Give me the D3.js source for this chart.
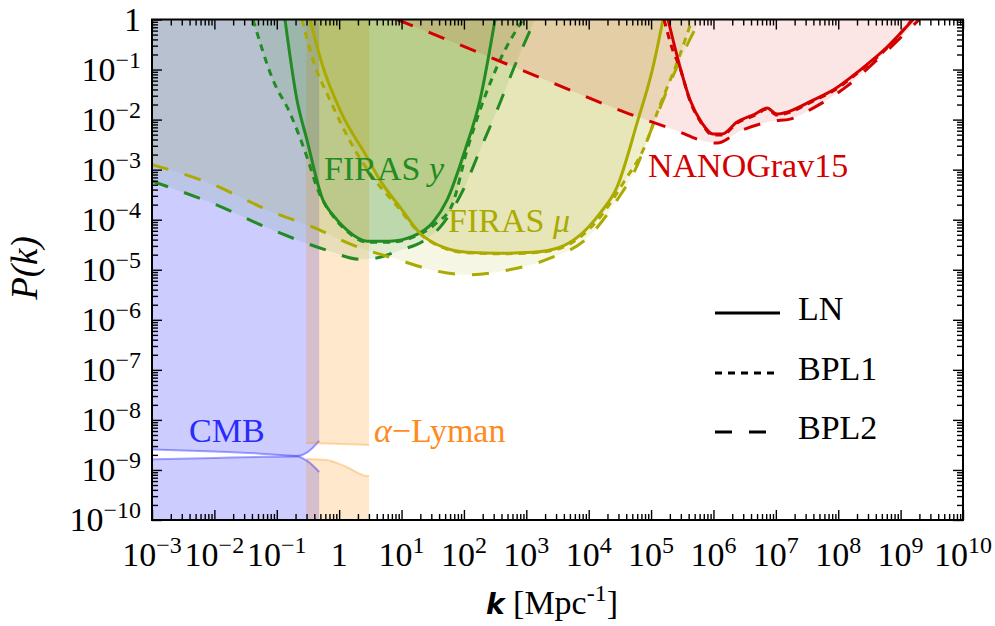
<!DOCTYPE html>
<html><head><meta charset="utf-8">
<script src="https://cdn.jsdelivr.net/npm/d3@7"></script>
<style>
body{margin:0;background:#fff}
svg{display:block}
text{font-family:"Liberation Serif","DejaVu Serif",serif}
</style>
</head><body>
<svg id="c" width="995" height="626"></svg>
<script>
// ---------- DATA: points are [log10 k (Mpc^-1), log10 P(k)] ----------
const firasY_LN = [[-0.868,0],[-0.676,-1.61],[-0.515,-2.41],[-0.259,-3.61],[-0.098,-3.91],[0.126,-4.21],[0.447,-4.43],[0.815,-4.43],[1.184,-4.33],[1.505,-4.05],[1.729,-3.61],[2.018,-2.61],[2.258,-1.61],[2.499,0]];
const firasY_BPL1 = [[-1.381,0],[-1.060,-1.21],[-0.788,-1.87],[-0.515,-2.75],[-0.339,-3.41],[-0.098,-3.93],[0.126,-4.23],[0.447,-4.45],[0.815,-4.45],[1.184,-4.35],[1.537,-4.09],[1.809,-3.71],[2.050,-2.61],[2.258,-1.81],[2.579,-0.81],[2.948,0]];
const firasY_BPL2 = [[-3,-3.23],[-1.958,-3.71],[-1.060,-4.21],[-0.195,-4.61],[0.334,-4.79],[0.575,-4.77],[0.976,-4.61],[1.344,-4.43],[1.617,-4.15],[1.970,-3.45],[2.258,-2.61],[2.531,-1.81],[2.820,-0.91],[3.140,0]];

const firasMu_LN = [[-0.467,0],[-0.259,-0.95],[0.014,-1.81],[0.447,-2.75],[0.655,-3.21],[0.976,-3.75],[1.296,-4.27],[1.665,-4.55],[2.050,-4.65],[2.579,-4.67],[3.108,-4.65],[3.541,-4.55],[3.861,-4.31],[4.182,-3.87],[4.454,-3.35],[4.775,-2.07],[5.031,-0.95],[5.192,0]];
const firasMu_BPL1 = [[-0.595,0],[-0.419,-0.81],[-0.147,-1.61],[0.254,-2.61],[0.575,-3.21],[0.944,-3.75],[1.296,-4.28],[1.665,-4.56],[2.050,-4.66],[2.579,-4.68],[3.108,-4.66],[3.541,-4.57],[3.861,-4.35],[4.182,-3.95],[4.583,-3.21],[4.872,-2.61],[5.144,-1.71],[5.432,-0.81],[5.657,0]];
const firasMu_BPL2 = [[-3,-2.90],[-2.118,-3.25],[-1.060,-3.85],[-0.419,-4.15],[0.222,-4.51],[0.976,-4.81],[1.505,-5.01],[2.050,-5.10],[2.691,-5.01],[3.380,-4.77],[3.973,-4.37],[4.454,-3.61],[4.743,-3.01],[5.063,-2.01],[5.464,-0.81],[5.785,0]];

const nano_LN = [[5.272,0],[5.464,-0.95],[5.625,-1.61],[5.817,-2.07],[5.994,-2.29],[6.138,-2.29],[6.378,-2.05],[6.667,-1.89],[6.859,-1.77],[7.019,-1.89],[7.180,-1.85],[7.597,-1.61],[7.917,-1.41],[8.350,-1.01],[8.783,-0.55],[9.200,0]];
const nano_BPL1 = [[5.208,0],[5.336,-0.57],[5.464,-0.97],[5.625,-1.63],[5.817,-2.09],[5.994,-2.31],[6.138,-2.31],[6.378,-2.07],[6.667,-1.91],[6.859,-1.79],[7.019,-1.91],[7.180,-1.87],[7.597,-1.63],[7.917,-1.43],[8.350,-1.03],[8.783,-0.57],[9.184,0]];
const nano_BPL2 = [[0.928,0],[2.258,-0.67],[3.428,-1.27],[4.615,-1.87],[5.464,-2.25],[5.785,-2.41],[6.057,-2.47],[6.426,-2.23],[6.955,-2.03],[7.228,-1.99],[7.597,-1.77],[8.142,-1.33],[8.671,-0.75],[9.300,0]];

const cmbUpper = [[-3,-8.59],[-2,-8.63],[-1.3,-8.67],[-0.676,-8.72],[-0.5,-8.64],[-0.32,-8.42]];
const cmbLower = [[-3,-8.79],[-2,-8.76],[-1.3,-8.74],[-0.676,-8.73],[-0.5,-8.83],[-0.32,-9.04]];
const lyaUpper = [[-0.53,-8.46],[0.0,-8.48],[0.48,-8.50]];
const lyaLower = [[-0.53,-8.78],[-0.2,-8.80],[0.12,-8.94],[0.45,-9.12],[0.48,-9.12]];

const xTickExp = [-3,-2,-1,0,1,2,3,4,5,6,7,8,9,10];
const xTickSup = ["−3","−2","−1","","1","2","3","4","5","6","7","8","9","10"];
const yTickExp = [-10,-9,-8,-7,-6,-5,-4,-3,-2,-1,0];
const yTickSup = ["−10","−9","−8","−7","−6","−5","−4","−3","−2","−1",""];

const legendNames = ["LN","BPL1","BPL2"];

// ---------- STYLE ----------
const C = {green:"#228b22", yellow:"#aaaa00", red:"#d40000", blue:"#0000ff", orange:"#ff8c00",
           cmbText:"#2a2aff", lyaText:"#ff8a1e"};
const dash = {LN:null, BPL1:"7,6", BPL2:"17,17"};

const L=152, R=963, T=19.5, B=520;
const x = d3.scaleLog().domain([1e-3,1e10]).range([L,R]);
const y = d3.scaleLog().domain([1e-10,1]).range([B,T]);

const svg = d3.select("#c");
svg.append("rect").attr("width",995).attr("height",626).attr("fill","#fff");
svg.append("defs").append("clipPath").attr("id","clip")
  .append("rect").attr("x",L).attr("y",T).attr("width",R-L).attr("height",B-T);
const plot = svg.append("g").attr("clip-path","url(#clip)");

const px = d => x(Math.pow(10,d[0])), py = d => y(Math.pow(10,d[1]));
const line = d3.line().x(px).y(py).curve(d3.curveMonotoneX);
const areaTop = d3.area().x(px).y0(y(1)).y1(py).curve(d3.curveMonotoneX);
const areaBot = d3.area().x(px).y0(y(1e-10)).y1(py).curve(d3.curveMonotoneX);

// CMB and Lyman-alpha bands
[[cmbUpper,areaTop],[cmbLower,areaBot]].forEach(([d,a])=>
  plot.append("path").attr("d",a(d)).attr("fill",C.blue).attr("fill-opacity",0.2));
[[lyaUpper,areaTop],[lyaLower,areaBot]].forEach(([d,a])=>
  plot.append("path").attr("d",a(d)).attr("fill",C.orange).attr("fill-opacity",0.2));

// FIRAS fills (stacked)
[[firasY_LN,C.green],[firasY_BPL1,C.green],[firasY_BPL2,C.green],
 [firasMu_LN,C.yellow],[firasMu_BPL1,C.yellow],[firasMu_BPL2,C.yellow]].forEach(([d,c])=>
  plot.append("path").attr("d",areaTop(d)).attr("fill",c).attr("fill-opacity",0.1));

// NANOGrav fill (union)
const ng = plot.append("g").attr("opacity",0.1);
[nano_LN,nano_BPL1,nano_BPL2].forEach(d=>ng.append("path").attr("d",areaTop(d)).attr("fill",C.red));

// band edge lines
[cmbUpper,cmbLower].forEach(d=>plot.append("path").attr("d",line(d)).attr("fill","none")
  .attr("stroke",C.blue).attr("stroke-opacity",0.35).attr("stroke-width",2));
[lyaUpper,lyaLower].forEach(d=>plot.append("path").attr("d",line(d)).attr("fill","none")
  .attr("stroke",C.orange).attr("stroke-opacity",0.3).attr("stroke-width",2));

// constraint curves
const curves = [
  [firasY_LN,C.green,"LN"],[firasY_BPL1,C.green,"BPL1"],[firasY_BPL2,C.green,"BPL2"],
  [firasMu_LN,C.yellow,"LN"],[firasMu_BPL1,C.yellow,"BPL1"],[firasMu_BPL2,C.yellow,"BPL2"],
  [nano_LN,C.red,"LN"],[nano_BPL1,C.red,"BPL1"],[nano_BPL2,C.red,"BPL2"]];
curves.forEach(([d,c,s])=>{
  const p = plot.append("path").attr("d",line(d)).attr("fill","none").attr("stroke",c)
    .attr("stroke-width",3).attr("stroke-linecap","butt");
  if (dash[s]) p.attr("stroke-dasharray",dash[s]);
});

// ---------- AXES ----------
const minors = (exps) => {
  const out=[]; exps.slice(0,-1).forEach(e=>{for(let m=2;m<10;m++) out.push(m*Math.pow(10,e));}); return out;
};
const xMaj = xTickExp.map(e=>Math.pow(10,e)), yMaj = yTickExp.map(e=>Math.pow(10,e));
const xMin = minors(xTickExp), yMin = minors(yTickExp);
function ax(gen, scale, vals, size, tr){
  const g = svg.append("g").attr("transform",tr)
    .call(gen(scale).tickValues(vals).tickSize(size).tickFormat(""));
  g.select(".domain").remove();
  g.selectAll("line").attr("stroke","#000").attr("stroke-width",1.4);
}
ax(d3.axisBottom,x,xMaj,-10,`translate(0,${B})`);
ax(d3.axisBottom,x,xMin,-6,`translate(0,${B})`);
ax(d3.axisTop,x,xMaj,-10,`translate(0,${T})`);
ax(d3.axisTop,x,xMin,-6,`translate(0,${T})`);
ax(d3.axisLeft,y,yMaj,-10,`translate(${L},0)`);
ax(d3.axisLeft,y,yMin,-6,`translate(${L},0)`);
ax(d3.axisRight,y,yMaj,-10,`translate(${R},0)`);
ax(d3.axisRight,y,yMin,-6,`translate(${R},0)`);
svg.append("rect").attr("x",L).attr("y",T).attr("width",R-L).attr("height",B-T)
  .attr("fill","none").attr("stroke","#000").attr("stroke-width",2);

// tick labels
xTickExp.forEach((e,i)=>{
  const t = svg.append("text").attr("x",x(Math.pow(10,e))).attr("y",566)
    .attr("text-anchor","middle").attr("font-size",34);
  if (e===0) { t.text("1"); return; }
  t.append("tspan").text("10");
  t.append("tspan").attr("dy",-13).attr("font-size",24).text(xTickSup[i]);
});
yTickExp.forEach((e,i)=>{
  const t = svg.append("text").attr("x",141).attr("y",y(Math.pow(10,e))+11)
    .attr("text-anchor","end").attr("font-size",34);
  if (e===0) { t.text("1"); return; }
  t.append("tspan").text("10");
  t.append("tspan").attr("dy",-13).attr("font-size",24).text(yTickSup[i]);
});

// axis titles
const xt = svg.append("text").attr("x",552).attr("y",614).attr("text-anchor","middle").attr("font-size",34);
xt.append("tspan").attr("font-style","italic").attr("font-weight","bold").attr("font-family","DejaVu Sans").attr("font-size",28).text("k");
xt.append("tspan").text(" [Mpc");
xt.append("tspan").attr("dy",-13).attr("font-size",24).text("-1");
xt.append("tspan").attr("dy",13).text("]");
const yt = svg.append("text").attr("transform","translate(37,268) rotate(-90)").attr("text-anchor","middle").attr("font-size",37).attr("font-style","italic");
yt.text("P(k)");

// region labels
function lab(xp,yp,col,parts){
  const t = svg.append("text").attr("x",xp).attr("y",yp).attr("fill",col).attr("font-size",34);
  parts.forEach(([s,it])=>{ const sp=t.append("tspan").text(s); if(it) sp.attr("font-style","italic"); });
}
lab(324,180,C.green,[["FIRAS ",false],["y",true]]);
lab(448,232,C.yellow,[["FIRAS ",false],["μ",true]]);
lab(648,177,C.red,[["NANOGrav15",false]]);
lab(189,442,C.cmbText,[["CMB",false]]);
lab(374,442,C.lyaText,[["α",true],["−Lyman",false]]);

// legend
const legY = [313,373,432];
legendNames.forEach((n,i)=>{
  const l = svg.append("line").attr("x1",715).attr("x2",780).attr("y1",legY[i]).attr("y2",legY[i])
    .attr("stroke","#000").attr("stroke-width",3);
  if (dash[n]) l.attr("stroke-dasharray",dash[n]);
  svg.append("text").attr("x",798).attr("y",legY[i]+7).attr("font-size",34).text(n);
});
</script>
</body></html>
